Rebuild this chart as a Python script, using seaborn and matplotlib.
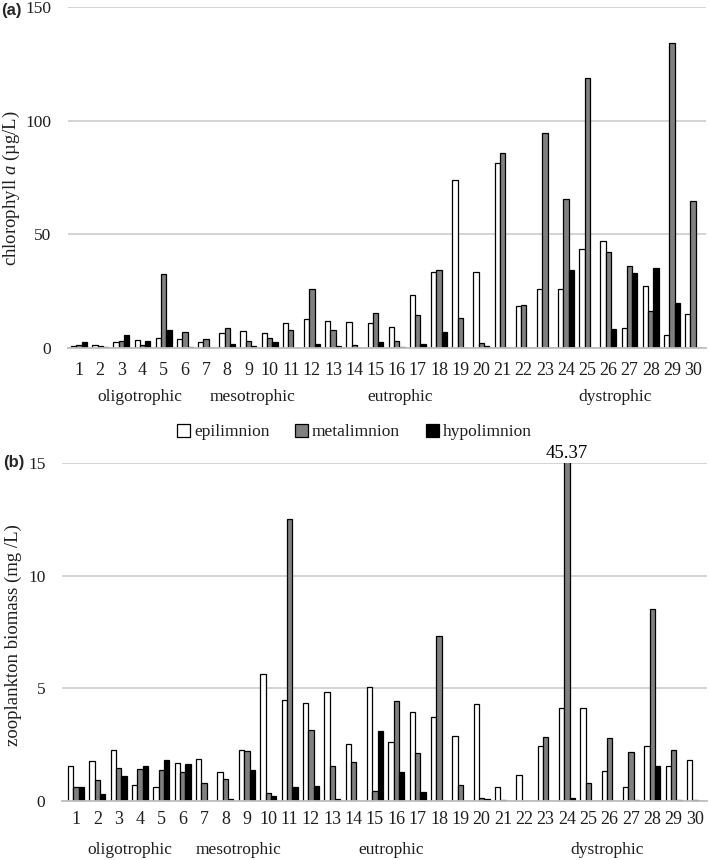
import numpy as np
import pandas as pd
import matplotlib
matplotlib.use("Agg")
import matplotlib.pyplot as plt
import seaborn as sns

lakes = [str(i) for i in range(1, 31)]
layers = ["epilimnion", "metalimnion", "hypolimnion"]

chl_epi = [1.0, 1.5, 2.5, 3.5, 4.2, 3.8, 2.5, 6.7, 7.5, 6.4, 10.8, 12.9, 11.9, 11.3, 11.0,
           9.1, 23.3, 33.4, 73.9, 33.4, 81.5, 18.6, 25.8, 26.0, 43.6, 47.1, 8.8, 27.4, 5.6, 14.9]
chl_meta = [1.5, 1.0, 2.9, 1.5, 32.6, 7.2, 4.0, 8.6, 2.9, 4.2, 8.0, 25.8, 8.0, 1.5, 15.4,
            3.2, 14.3, 34.2, 13.2, 2.3, 85.8, 18.7, 94.7, 65.4, 118.7, 42.1, 35.9, 16.1, 134.2, 64.5]
chl_hypo = [2.6, 0.4, 5.7, 3.2, 7.8, 0.3, 0.0, 1.6, 1.0, 2.5, 0.2, 1.8, 0.7, 0.0, 2.6,
            0.3, 1.6, 6.9, 0.0, 0.9, 0.0, 0.0, 0.0, 34.2, 0.0, 8.3, 33.2, 35.4, 19.8, 0.0]

zoo_epi = [1.57, 1.78, 2.27, 0.69, 0.64, 1.69, 1.85, 1.27, 2.27, 5.64, 4.49, 4.33, 4.85, 2.55, 5.04,
           2.61, 3.96, 3.75, 2.90, 4.30, 0.63, 1.15, 2.42, 4.13, 4.13, 1.34, 0.63, 2.42, 1.57, 1.81]
zoo_meta = [0.60, 0.91, 1.46, 1.43, 1.37, 1.28, 0.79, 0.97, 2.24, 0.34, 12.53, 3.16, 1.55, 1.72, 0.46,
            4.46, 2.12, 7.34, 0.69, 0.13, 0.03, 0.0, 2.85, 45.37, 0.81, 2.78, 2.16, 8.52, 2.27, 0.05]
zoo_hypo = [0.63, 0.33, 1.10, 1.57, 1.81, 1.63, 0.0, 0.07, 1.36, 0.24, 0.63, 0.66, 0.10, 0.0, 3.10,
            1.27, 0.42, 0.0, 0.0, 0.10, 0.0, 0.0, 0.0, 0.15, 0.0, 0.0, 0.03, 1.57, 0.05, 0.0]

groups = ["oligotrophic", "mesotrophic", "eutrophic", "dystrophic"]
group_pos_a = [2.85, 8.2, 15.15, 25.3]
group_pos_b = [2.5, 7.6, 14.75, 24.9]

def long_df(e, m, h):
    rows = []
    for vals, lay in zip([e, m, h], layers):
        for lk, v in zip(lakes, vals):
            rows.append({"lake": lk, "layer": lay, "value": v})
    return pd.DataFrame(rows)

df_a = long_df(chl_epi, chl_meta, chl_hypo)
df_b = long_df(zoo_epi, zoo_meta, zoo_hypo)

sns.set_style("white")
plt.rcParams["font.family"] = ["Liberation Serif", "DejaVu Serif"]
plt.rcParams["mathtext.fontset"] = "custom"
plt.rcParams["mathtext.it"] = "Liberation Serif:italic"
plt.rcParams["mathtext.rm"] = "Liberation Serif"

W, H = 709, 860
fig = plt.figure(figsize=(W / 100, H / 100), dpi=100)
ax1 = fig.add_axes([68 / W, 1 - 348 / H, (706 - 68) / W, (348 - 7) / H])
ax2 = fig.add_axes([62 / W, 1 - 801 / H, (707 - 62) / W, (801 - 463) / H])

pal = ["white", "#808080", "black"]
txtc = "#1e1e1e"

specs = [(ax1, df_a, 150, [0, 50, 100, 150], group_pos_a, (-0.52, 29.61), 10),
         (ax2, df_b, 15, [0, 5, 10, 15], group_pos_b, (-0.66, 29.56), 7)]
for ax, df, ymax, yt, gp, xl, xpad in specs:
    sns.barplot(data=df, x="lake", y="value", hue="layer", hue_order=layers,
                order=lakes, palette=pal, edgecolor="black", linewidth=0.9,
                width=0.75, errorbar=None, ax=ax, saturation=1)
    ax.set_ylim(0, ymax)
    ax.set_xlim(*xl)
    ax.set_yticks(yt)
    ax.yaxis.grid(True, color="#d0d0d0", linewidth=1.3)
    ax.set_axisbelow(True)
    for s in ["top", "right", "left"]:
        ax.spines[s].set_visible(False)
    ax.spines["bottom"].set_color("#bfbfbf")
    ax.spines["bottom"].set_linewidth(1.3)
    ax.tick_params(axis="x", length=0, labelsize=13, colors=txtc, pad=xpad)
    ax.tick_params(axis="y", length=0, labelsize=12.5, colors=txtc, pad=12)
    ax.set_xlabel("")
    for g, p in zip(groups, gp):
        ax.text(p, -49 / (348 - 7), g, transform=ax.get_xaxis_transform(), ha="center",
                va="center", fontsize=12.5, color=txtc)

handles, labels = ax1.get_legend_handles_labels()
ax1.get_legend().remove()
ax2.get_legend().remove()
fig.legend(handles, labels, loc="center", bbox_to_anchor=(0.5, 1 - 432 / H), ncol=3,
           frameon=False, fontsize=12.5, handlelength=0.75, handleheight=0.75,
           handletextpad=0.2, columnspacing=1.5, labelcolor=txtc)

ax1.set_ylabel("chlorophyll $\\mathit{a}$ (µg/L)", fontsize=13.5, color=txtc)
ax1.yaxis.set_label_coords((22 - 68) / (706 - 68), 0.47)
ax2.set_ylabel("zooplankton biomass (mg /L)", fontsize=13.5, color=txtc)
ax2.yaxis.set_label_coords((22 - 62) / (707 - 62), 0.49)

# annotate clipped bar (value beyond axis limit)
ax2.text(lakes.index("24"), 15.05, f"{zoo_meta[23]:.2f}", ha="center", va="bottom",
         fontsize=13.5, color="black")

fig.text(0.001, 1 - 10 / H, "(a)", fontsize=12, fontweight="bold",
         family="Liberation Sans", va="center", ha="left")
fig.text(0.004, 1 - 463 / H, "(b)", fontsize=12, fontweight="bold",
         family="Liberation Sans", va="center", ha="left")

fig.savefig("out.png", dpi=100)
